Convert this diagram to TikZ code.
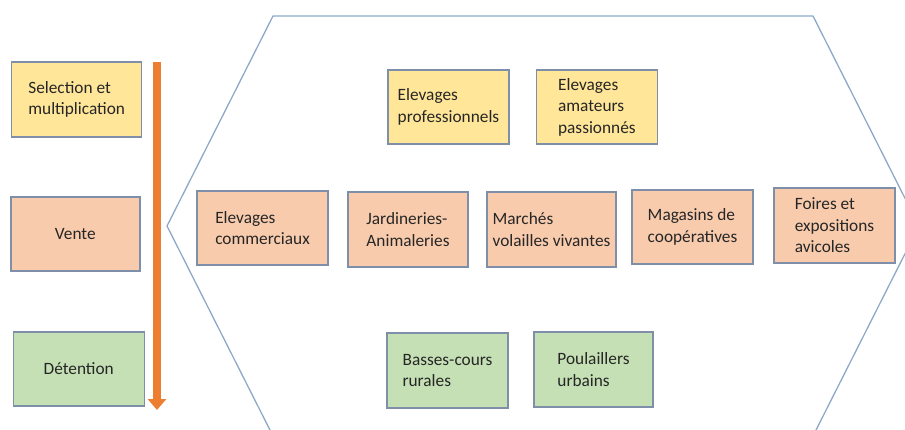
\documentclass[tikz,border=0pt]{standalone}
\usepackage{fontspec}
\setmainfont{Carlito}
\usepackage{xcolor}
\usepackage{tikz}
\usetikzlibrary{positioning, arrows.meta}
\definecolor{jauneBox}{HTML}{FFE699}
\definecolor{orangeBox}{HTML}{F8CBAD}
\definecolor{vertBox}{HTML}{C5E0B4}
\definecolor{bordBox}{HTML}{7F8FA9}
\definecolor{bordHex}{HTML}{8EA9C8}
\definecolor{orangeFleche}{HTML}{ED7D31}
\tikzset{
    etape/.style={rectangle, draw=bordBox, line width=1.4pt, align=left, inner sep=0pt, minimum width=121pt, minimum height=74pt, text=black!85, font=\fontsize{17.3}{21.5}\selectfont},
    selection/.style={etape, fill=jauneBox},
    vente/.style={etape, fill=orangeBox},
    detention/.style={etape, fill=vertBox},
    cadre/.style={draw=bordHex, line width=1.3pt, line join=miter},
    fleche/.style={-{Triangle[width=18pt, length=11pt]}, draw=orangeFleche, line width=8.3pt}
}

\begin{document}
\begin{tikzpicture}[x=1pt, y=-1pt]
        \clip (0,0) rectangle (905,429);

        % Hexagone
        \draw[cadre] (273,16) -- (813,16) -- (919,226) -- (813,436) -- (273,436) -- (167,226) -- cycle;

        % Niveaux
        \node[selection, minimum width=130pt, minimum height=75pt] (Selection) at (76.7,99.5) {Selection et\\multiplication};
        \node[vente, minimum width=129pt] (Vente) at (75.3,234) {Vente};
        \node[detention, minimum width=131pt] (Detention) at (78.7,369) {Détention};

        % Fleche
        \coordinate (FlecheHaut) at (157,62);
        \coordinate (FlecheBas) at (157,410);
        \draw[fleche] (FlecheHaut) -- (FlecheBas);

        % Selection
        \node[selection] (ElevPro) at (448.5,107) {Elevages\\professionnels};
        \node[selection, right=26pt of ElevPro.east, anchor=west] (ElevAmat) {Elevages\\amateurs\\passionnés};

        % Vente
        \node[vente, minimum width=131pt] (ElevComm) at (262.5,228) {Elevages\\commerciaux};
        \node[vente, minimum width=120pt, minimum height=75pt] (Jardin) at (408,229.5) {Jardineries-\\Animaleries};
        \node[vente, minimum width=129pt, minimum height=75pt] (Marches) at (551.5,229.5) {Marchés\\volailles vivantes};
        \node[vente] (Magasins) at (692.5,227) {Magasins de\\coopératives};
        \node[vente, minimum height=75pt] (Foires) at (834.5,225.5) {Foires et\\expositions\\avicoles};

        % Detention
        \node[detention, minimum height=75pt] (BassesCours) at (447.5,370.5) {Basses-cours\\rurales};
        \node[detention, minimum width=119pt, minimum height=75pt] (Poulaillers) at (593.5,369.5) {Poulaillers\\urbains};

    \end{tikzpicture}
\end{document}
